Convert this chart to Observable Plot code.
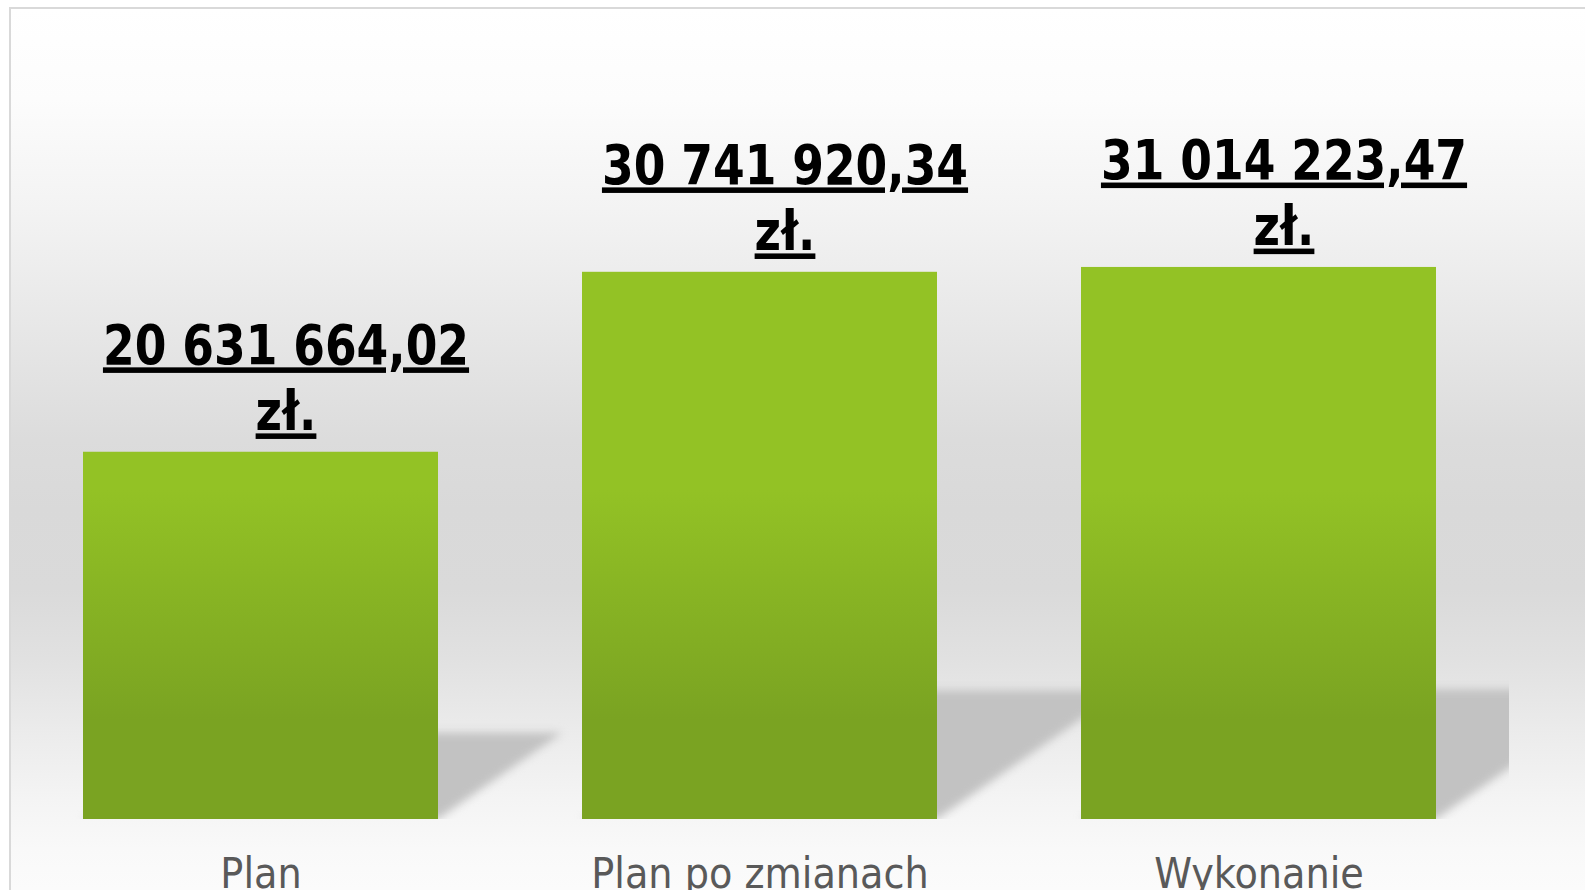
<!DOCTYPE html>
<html>
<head>
<meta charset="utf-8">
<script src="https://cdn.jsdelivr.net/npm/d3@7"></script>
<script src="https://cdn.jsdelivr.net/npm/@observablehq/plot@0.6"></script>
<style>
  html, body { margin: 0; padding: 0; background: #ffffff; overflow: hidden; width: 1585px; height: 890px; }
  #bg {
    position: absolute; left: 9px; top: 7px; right: -20px; bottom: -20px;
    border-top: 2px solid #d9d9d9; border-left: 2px solid #d9d9d9;
    background: linear-gradient(to bottom, #ffffff 0px, #fcfcfc 90px, #f3f3f3 200px, #e7e7e7 320px, #dcdcdc 430px, #d9d9d9 500px, #dadada 580px, #e1e1e1 650px, #ebebeb 720px, #f4f4f4 790px, #f9f9f9 840px, #fcfcfc 900px);
  }
  #chart { position: absolute; left: 0; top: 0; }
</style>
</head>
<body>
<div id="bg"></div>
<div id="chart"></div>
<script>
// ---- data ----
const categories = ["Plan", "Plan po zmianach", "Wykonanie"];
const values = [20631664.02, 30741920.34, 31014223.47];
const currencySuffix = "zł.";

const data = categories.map((c, i) => ({category: c, value: values[i]}));

const plLocale = d3.formatLocale({decimal: ",", thousands: " ", grouping: [3], currency: ["", ""]});
const fmt = plLocale.format(",.2f");

const shadowRatio = 0.235;   // shadow height relative to bar (visual effect)

const plot = Plot.plot({
  width: 1585,
  height: 890,
  marginLeft: 10,
  marginRight: 76,
  marginTop: 196,
  marginBottom: 71,
  style: {
    background: "transparent",
    fontFamily: "'DejaVu Sans Condensed', 'DejaVu Sans', sans-serif",
    fontSize: "42.5px",
    color: "#595959",
    overflow: "visible"
  },
  x: {domain: categories, paddingInner: 0.289, paddingOuter: 0.1446, axis: "bottom", tickSize: 0, tickPadding: 38, label: null},
  y: {domain: [0, 35e6], axis: null},
  marks: [
    Plot.barY(data, {
      x: "category",
      y: d => d.value * shadowRatio,
      fill: "#c2c2c2",
      clip: true
    }),
    Plot.barY(data, {
      x: "category",
      y: "value",
      fill: "url(#barGrad)"
    }),
    Plot.text(data, {
      x: "category",
      y: "value",
      text: d => fmt(d.value) + "\n" + currencySuffix,
      lineAnchor: "bottom",
      lineHeight: 1.19,
      dx: 25,
      dy: -22,
      fontSize: 55.5,
      fontWeight: "bold",
      fontFamily: "'DejaVu Sans Condensed', 'DejaVu Sans', sans-serif",
      fill: "#000000"
    })
  ]
});

document.getElementById("chart").appendChild(plot);

// post-styling
const svg = d3.select(plot);
const defs = svg.insert("defs", ":first-child");
const grad = defs.append("linearGradient")
  .attr("id", "barGrad")
  .attr("gradientUnits", "userSpaceOnUse")
  .attr("x1", 0).attr("x2", 0).attr("y1", 490).attr("y2", 720);
grad.append("stop").attr("offset", "0%").attr("stop-color", "#93c225");
grad.append("stop").attr("offset", "100%").attr("stop-color", "#7aa322");

// first bar group = shadows
const barGroups = Array.from(plot.querySelectorAll("g")).filter(g => g.querySelector(":scope > rect") && g.querySelectorAll(":scope > rect").length === data.length);
const shadowG = barGroups[0];
if (shadowG) {
  shadowG.style.filter = "blur(4px)";
  shadowG.querySelectorAll("rect").forEach(r => {
    r.style.transformBox = "fill-box";
    r.style.transformOrigin = "0% 100%";
    r.style.transform = "skewX(-55.2deg)";
  });
}

// value labels: the multi-line texts (those containing tspans)
plot.querySelectorAll("text").forEach(t => {
  if (t.querySelector("tspan") && t.textContent.includes(currencySuffix)) {
    const tr = t.getAttribute("transform") || "";
    t.setAttribute("transform", tr + " scale(0.913,1)");
    t.style.textDecoration = "underline";
    t.style.textDecorationThickness = "5px";
    t.style.textUnderlineOffset = "6px";
  }
});
</script>
</body>
</html>
